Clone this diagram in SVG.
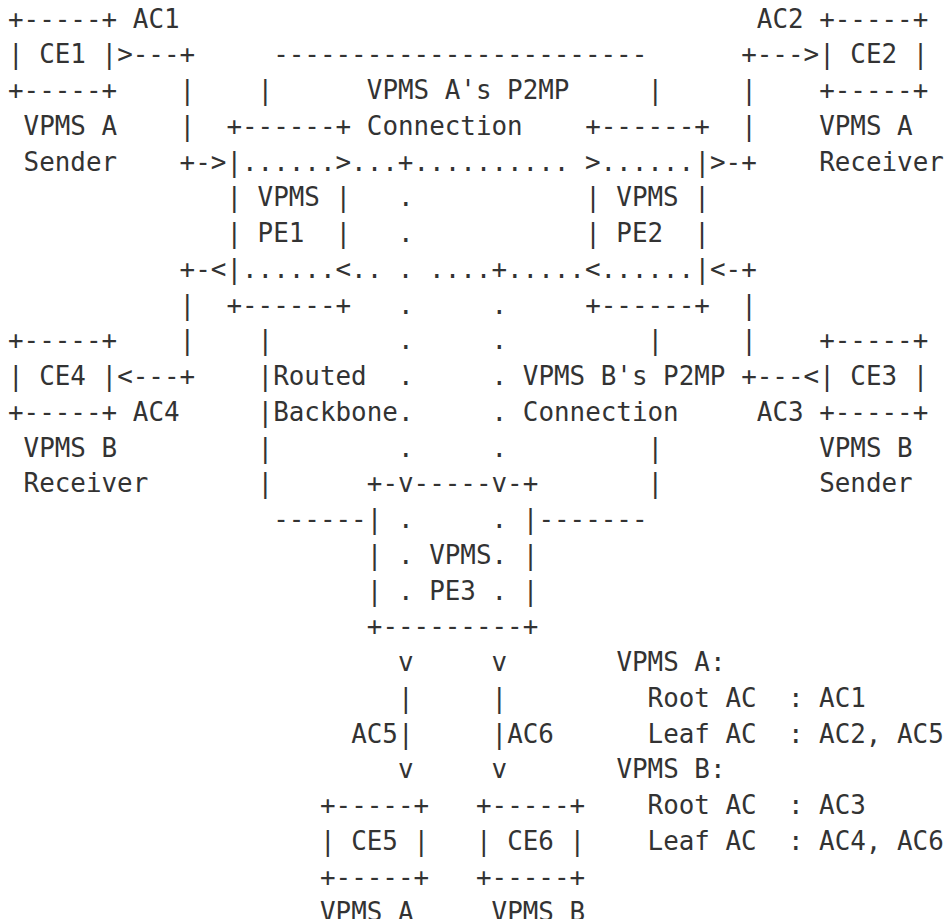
<svg xmlns="http://www.w3.org/2000/svg" width="945" height="919" viewBox="0 0 945 919" xml:space="preserve">
<style>
text { font-family: "DejaVu Sans Mono", "Liberation Mono", monospace; font-size: 25.9px; fill: #333333; white-space: pre; }
</style>
<rect x="0" y="0" width="945" height="919" fill="#ffffff"/>
<g id="backbone">
<text x="273.2" y="63.25">------------------------</text>
<text x="257.6" y="99">|</text><text x="647.6" y="99">|</text>
<text x="257.6" y="349.25">|</text><text x="647.6" y="349.25">|</text>
<text x="257.6" y="385">|Routed</text>
<text x="257.6" y="420.75">|Backbone</text>
<text x="257.6" y="456.5">|</text><text x="647.6" y="456.5">|</text>
<text x="257.6" y="492.25">|</text><text x="647.6" y="492.25">|</text>
<text x="273.2" y="528">------</text>
<text x="538.4" y="528">-------</text>
</g>
<g id="ce1">
<text x="8" y="27.5">+-----+</text>
<text x="8" y="63.25">| CE1 |</text>
<text x="8" y="99">+-----+</text>
<text x="23.6" y="134.75">VPMS A</text>
<text x="23.6" y="170.5">Sender</text>
</g>
<g id="ce2">
<text x="819.2" y="27.5">+-----+</text>
<text x="819.2" y="63.25">| CE2 |</text>
<text x="819.2" y="99">+-----+</text>
<text x="819.2" y="134.75">VPMS A</text>
<text x="819.2" y="170.5">Receiver</text>
</g>
<g id="ce4">
<text x="8" y="349.25">+-----+</text>
<text x="8" y="385">| CE4 |</text>
<text x="8" y="420.75">+-----+</text>
<text x="23.6" y="456.5">VPMS B</text>
<text x="23.6" y="492.25">Receiver</text>
</g>
<g id="ce3">
<text x="819.2" y="349.25">+-----+</text>
<text x="819.2" y="385">| CE3 |</text>
<text x="819.2" y="420.75">+-----+</text>
<text x="819.2" y="456.5">VPMS B</text>
<text x="819.2" y="492.25">Sender</text>
</g>
<g id="pe1">
<text x="226.4" y="134.75">+------+</text>
<text x="226.4" y="170.5">|</text>
<text x="226.4" y="206.25">| VPMS |</text>
<text x="226.4" y="242">| PE1  |</text>
<text x="226.4" y="277.75">|</text>
<text x="226.4" y="313.5">+------+</text>
</g>
<g id="pe2">
<text x="585.2" y="134.75">+------+</text>
<text x="694.4" y="170.5">|</text>
<text x="585.2" y="206.25">| VPMS |</text>
<text x="585.2" y="242">| PE2  |</text>
<text x="694.4" y="277.75">|</text>
<text x="585.2" y="313.5">+------+</text>
</g>
<g id="pe3">
<text x="366.8" y="492.25">+-v-----v-+</text>
<text x="366.8" y="528">|</text><text x="522.8" y="528">|</text>
<text x="366.8" y="563.75">| . VPMS. |</text>
<text x="366.8" y="599.5">| . PE3 . |</text>
<text x="366.8" y="635.25">+---------+</text>
</g>
<g id="ce5">
<text x="320" y="814">+-----+</text>
<text x="320" y="849.75">| CE5 |</text>
<text x="320" y="885.5">+-----+</text>
<text x="320" y="921.25">VPMS A</text>
</g>
<g id="ce6">
<text x="476" y="814">+-----+</text>
<text x="476" y="849.75">| CE6 |</text>
<text x="476" y="885.5">+-----+</text>
<text x="491.6" y="921.25">VPMS B</text>
</g>
<g id="legend">
<text x="616.4" y="671">VPMS A:</text>
<text x="647.6" y="706.75">Root AC  : AC1</text>
<text x="647.6" y="742.5">Leaf AC  : AC2, AC5</text>
<text x="616.4" y="778.25">VPMS B:</text>
<text x="647.6" y="814">Root AC  : AC3</text>
<text x="647.6" y="849.75">Leaf AC  : AC4, AC6</text>
</g>
<g id="connectors">
<!-- AC1 -->
<text x="132.8" y="27.5">AC1</text>
<text x="117.2" y="63.25">&gt;---+</text>
<text x="179.6" y="99">|</text>
<text x="179.6" y="134.75">|</text>
<text x="179.6" y="170.5">+-&gt;</text>
<!-- AC2 -->
<text x="756.8" y="27.5">AC2</text>
<text x="741.2" y="63.25">+---&gt;</text>
<text x="741.2" y="99">|</text>
<text x="741.2" y="134.75">|</text>
<text x="710" y="170.5">&gt;-+</text>
<!-- AC4 -->
<text x="179.6" y="277.75">+-&lt;</text>
<text x="179.6" y="313.5">|</text>
<text x="179.6" y="349.25">|</text>
<text x="117.2" y="385">&lt;---+</text>
<text x="132.8" y="420.75">AC4</text>
<!-- AC3 -->
<text x="710" y="277.75">&lt;-+</text>
<text x="741.2" y="313.5">|</text>
<text x="741.2" y="349.25">|</text>
<text x="741.2" y="385">+---&lt;</text>
<text x="756.8" y="420.75">AC3</text>
<!-- VPMS A P2MP -->
<text x="366.8" y="99">VPMS A's P2MP</text>
<text x="366.8" y="134.75">Connection</text>
<text x="242" y="170.5">......&gt;...+.......... &gt;......</text>
<text x="398" y="206.25">.</text>
<text x="398" y="242">.</text>
<!-- VPMS B P2MP -->
<text x="242" y="277.75">......&lt;.. . ....+.....&lt;......</text>
<text x="398" y="313.5">.</text><text x="491.6" y="313.5">.</text>
<text x="398" y="349.25">.</text><text x="491.6" y="349.25">.</text>
<text x="398" y="385">.</text><text x="491.6" y="385">.</text>
<text x="398" y="420.75">.</text><text x="491.6" y="420.75">.</text>
<text x="398" y="456.5">.</text><text x="491.6" y="456.5">.</text>
<text x="398" y="528">.</text><text x="491.6" y="528">.</text>
<text x="522.8" y="385">VPMS B's P2MP</text>
<text x="522.8" y="420.75">Connection</text>
<!-- AC5 / AC6 -->
<text x="398" y="671">v</text><text x="491.6" y="671">v</text>
<text x="398" y="706.75">|</text><text x="491.6" y="706.75">|</text>
<text x="351.2" y="742.5">AC5|</text><text x="491.6" y="742.5">|AC6</text>
<text x="398" y="778.25">v</text><text x="491.6" y="778.25">v</text>
</g>
</svg>
